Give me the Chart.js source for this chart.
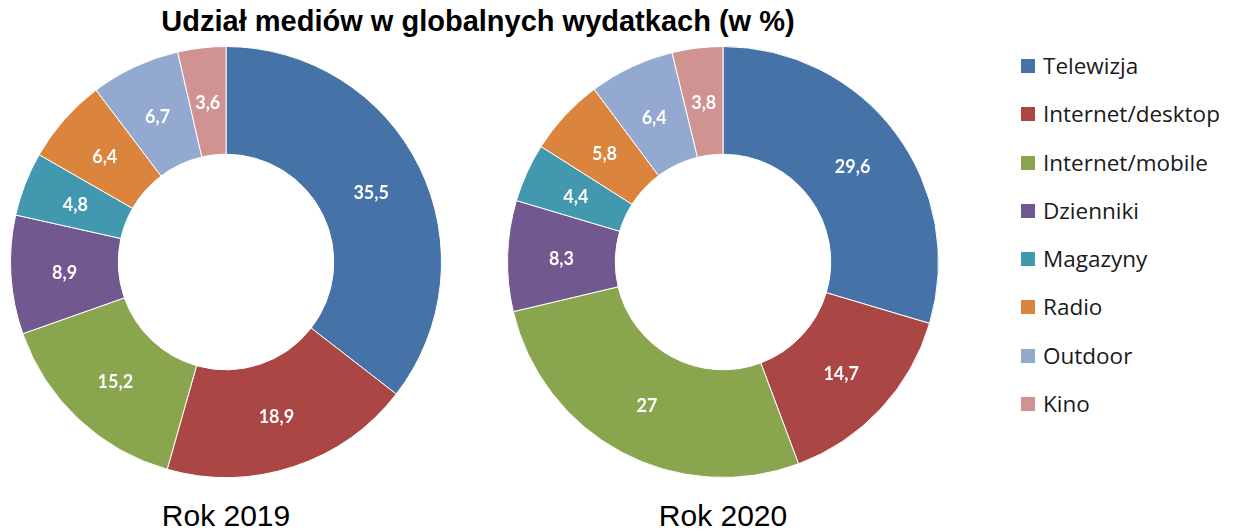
<!DOCTYPE html>
<html>
<head>
<meta charset="utf-8">
<script src="https://cdn.jsdelivr.net/npm/chart.js@4"></script>
<style>
  body { margin: 0; background: #fff; width: 1236px; height: 531px; position: relative; overflow: hidden; }
  #title { position: absolute; left: 0; width: 956px; top: 5px; text-align: center;
           font: bold 29px "Liberation Sans", Arial, sans-serif; color: #000; }
  .wrap { position: absolute; top: 46px; width: 432px; height: 432px; }
  .cap { position: absolute; top: 499px; width: 300px; text-align: center;
         font: 30px "Liberation Sans", Arial, sans-serif; color: #000; }
  #legend { position: absolute; left: 1021px; top: 50px; font: 22.5px "Open Sans", sans-serif; color: #1a1a1a; }
  #legend div { height: 48.3px; display: flex; align-items: flex-start; }
  #legend span.box { width: 14px; height: 14px; margin-top: 9px; margin-right: 8px; }
</style>
</head>
<body>
<div id="title">Udział mediów w globalnych wydatkach (w %)</div>
<div class="wrap" style="left:10px"><canvas id="c2019"></canvas></div>
<div class="wrap" style="left:507px"><canvas id="c2020"></canvas></div>
<div class="cap" style="left:76px">Rok 2019</div>
<div class="cap" style="left:573px">Rok 2020</div>
<div id="legend"></div>
<script>
var categories = ['Telewizja', 'Internet/desktop', 'Internet/mobile', 'Dzienniki', 'Magazyny', 'Radio', 'Outdoor', 'Kino'];
var values2019 = [35.5, 18.9, 15.2, 8.9, 4.8, 6.4, 6.7, 3.6];
var values2020 = [29.6, 14.7, 27, 8.3, 4.4, 5.8, 6.4, 3.8];
var colors = ['#4572A7', '#AA4643', '#89A54E', '#71588F', '#4198AF', '#DB843D', '#93A9CF', '#D19392'];

// white value labels in the middle of each slice
var sliceLabels = {
    id: 'sliceLabels',
    afterDatasetsDraw: function (chart) {
        var ctx = chart.ctx;
        var meta = chart.getDatasetMeta(0);
        var data = chart.data.datasets[0].data;
        ctx.save();
        ctx.fillStyle = '#fff';
        ctx.font = 'bold 18px Lato, "Open Sans", sans-serif';
        ctx.textAlign = 'center';
        ctx.textBaseline = 'middle';
        meta.data.forEach(function (arc, i) {
            var p = arc.tooltipPosition();
            ctx.fillText(String(data[i]).replace('.', ','), p.x, p.y + 2);
        });
        ctx.restore();
    }
};

function makeChart(id, values) {
    var ctx = document.getElementById(id).getContext('2d');
    return new Chart(ctx, {
        type: 'doughnut',
        data: {
            labels: categories,
            datasets: [{
                data: values,
                backgroundColor: colors,
                borderColor: '#fff',
                borderWidth: 1
            }]
        },
        options: {
            responsive: true,
            maintainAspectRatio: false,
            animation: false,
            cutout: '50%',
            layout: { padding: 0 },
            plugins: {
                legend: { display: false },
                tooltip: { enabled: false }
            }
        },
        plugins: [sliceLabels]
    });
}

makeChart('c2019', values2019);
makeChart('c2020', values2020);

var legend = document.getElementById('legend');
categories.forEach(function (name, i) {
    var row = document.createElement('div');
    row.innerHTML = '<span class="box" style="background:' + colors[i] + '"></span><span>' + name + '</span>';
    legend.appendChild(row);
});
</script>
</body>
</html>
